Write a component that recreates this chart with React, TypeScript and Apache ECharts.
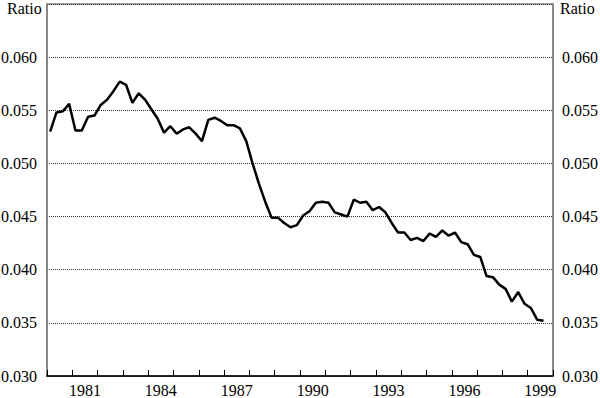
import React, { useEffect, useRef } from "react";
import * as echarts from "echarts";

const years = ["1980","1981","1982","1983","1984","1985","1986","1987","1988","1989","1990","1991","1992","1993","1994","1995","1996","1997","1998","1999"];
const startYear = 1980;
// Quarterly ratio, 1980Q1 - 1999Q3
const ratio = [
  0.0530, 0.0548, 0.0549, 0.0556,
  0.0531, 0.0531, 0.0544, 0.0545,
  0.0555, 0.0560, 0.0568, 0.0577,
  0.0574, 0.0557, 0.0566, 0.0560,
  0.0551, 0.0542, 0.0529, 0.0535,
  0.0528, 0.0532, 0.0534, 0.0528,
  0.0521, 0.0541, 0.0543, 0.0540,
  0.0536, 0.0536, 0.0533, 0.0521,
  0.0500, 0.0481, 0.0464, 0.0449,
  0.0449, 0.0444, 0.0440, 0.0442,
  0.0451, 0.0455, 0.0463, 0.0464,
  0.0463, 0.0454, 0.0452, 0.0450,
  0.0466, 0.0463, 0.0464, 0.0456,
  0.0459, 0.0454, 0.0444, 0.0435,
  0.0435, 0.0428, 0.0430, 0.0427,
  0.0434, 0.0431, 0.0437, 0.0432,
  0.0435, 0.0426, 0.0424, 0.0414,
  0.0412, 0.0394, 0.0393, 0.0386,
  0.0382, 0.0370, 0.0379, 0.0368,
  0.0364, 0.0353, 0.0352,
];
const shownYearLabels = ["1981","1984","1987","1990","1993","1996","1999"];
const axisTitle = "Ratio";

const FONT = "'Liberation Serif', 'DejaVu Serif', serif";

export default function App() {
  const ref = useRef<HTMLDivElement>(null);
  useEffect(() => {
    if (!ref.current) return;
    const chart = echarts.init(ref.current, null, { renderer: "svg" });
    const seriesData = ratio.map((v, i) => [startYear + (i + 0.5) / 4, v]);
    const yLabel = {
      fontFamily: FONT,
      fontSize: 16,
      color: "#000",
      formatter: (v: number) => (v > 0.0626 ? "" : v.toFixed(3)),
    };
    const yCommon = {
      type: "value",
      min: 0.03,
      max: 0.065,
      interval: 0.005,
      axisTick: { show: false },
      axisLine: { show: true, lineStyle: { color: "#808080", width: 1.5 } },
    };
    chart.setOption({
      animation: false,
      backgroundColor: "#fff",
      grid: {
        left: 47,
        right: 47,
        top: 4,
        bottom: 22,
        containLabel: false,
        outerBoundsMode: "none",
        show: true,
        borderColor: "#808080",
        borderWidth: 1.5,
        backgroundColor: "transparent",
      },
      xAxis: [
        {
          type: "category",
          data: years,
          boundaryGap: true,
          axisLine: { show: true, lineStyle: { color: "#000", width: 1.5 } },
          axisTick: { show: true, inside: true, length: 6, interval: 0, lineStyle: { color: "#000", width: 1 } },
          axisLabel: {
            interval: 0,
            formatter: (v: string) => (shownYearLabels.includes(v) ? v : ""),
            fontFamily: FONT,
            fontSize: 16,
            color: "#000",
            margin: 6,
          },
          splitLine: { show: false },
          z: 5,
        },
        {
          type: "value",
          min: startYear,
          max: startYear + years.length,
          show: false,
        },
      ],
      yAxis: [
        {
          ...yCommon,
          position: "left",
          axisLabel: { ...yLabel, margin: 10 },
          splitLine: { show: true, lineStyle: { type: "dotted", color: "#333", width: 1 } },
        },
        {
          ...yCommon,
          position: "right",
          axisLabel: { ...yLabel, margin: 9 },
          splitLine: { show: false },
        },
      ],
      graphic: [
        { type: "text", left: 7, top: 0, style: { text: axisTitle, fontFamily: FONT, fontSize: 16, fill: "#000" } },
        { type: "text", left: 560, top: 0, style: { text: axisTitle, fontFamily: FONT, fontSize: 16, fill: "#000" } },
      ],
      series: [
        {
          type: "line",
          xAxisIndex: 1,
          yAxisIndex: 0,
          data: seriesData,
          showSymbol: false,
          lineStyle: { color: "#000", width: 2.5 },
          z: 10,
        },
      ],
    });
    return () => chart.dispose();
  }, []);
  return <div ref={ref} style={{ position: "fixed", left: 0, top: 0, width: 600, height: 398 }} />;
}
